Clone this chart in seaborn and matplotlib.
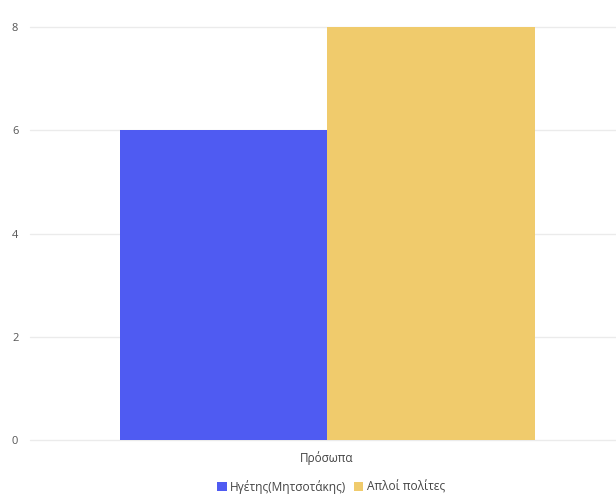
import matplotlib
matplotlib.use("Agg")
import matplotlib.pyplot as plt
import seaborn as sns
import pandas as pd
from matplotlib.patches import Patch

categories = ["Πρόσωπα"]
series = ["Ηγέτης(Μητσοτάκης)", "Απλοί πολίτες"]
values = [6, 8]
yticks = [0, 2, 4, 6, 8]
colors = ["#4f5bf2", "#f0cb6c"]

df = pd.DataFrame({
    "cat": categories * len(series),
    "series": series,
    "value": values,
})

sns.set_theme(style="white")
plt.rcParams["font.family"] = ["Open Sans", "DejaVu Sans"]

fig = plt.figure(figsize=(6.16, 4.97), dpi=100)
ax = fig.add_axes([30 / 616, 57 / 497, 586 / 616, 413 / 497])

sns.barplot(data=df, x="cat", y="value", hue="series", palette=colors,
            width=0.708, saturation=1, legend=False, ax=ax, linewidth=0)

ax.set_xlim(-0.507, 0.493)
ax.set_ylim(0, 8)
ax.set_yticks(yticks)
ax.set_yticklabels([str(t) for t in yticks], fontsize=8, color="#555555")
ax.tick_params(axis="y", length=0, pad=13)
ax.tick_params(axis="x", length=0, pad=8, labelsize=8.5, colors="#444444")
ax.set_xlabel("")
ax.set_ylabel("")
ax.yaxis.grid(True, color="#ebebeb", linewidth=1)
ax.set_axisbelow(True)
for s in ax.spines.values():
    s.set_visible(False)
for gl in ax.get_ygridlines():
    gl.set_clip_on(False)
for lbl in ax.get_yticklabels():
    lbl.set_horizontalalignment("left")

handles = [Patch(facecolor=c, edgecolor="none", label=l) for c, l in zip(colors, series)]
fig.legend(handles=handles, loc="center", bbox_to_anchor=(331 / 616, 1 - 487 / 497),
           ncol=2, frameon=False, fontsize=8.6, handlelength=0.8, handleheight=0.8,
           handletextpad=0.3, columnspacing=0.6, labelcolor="#444444")

fig.savefig("out.png", dpi=100)
